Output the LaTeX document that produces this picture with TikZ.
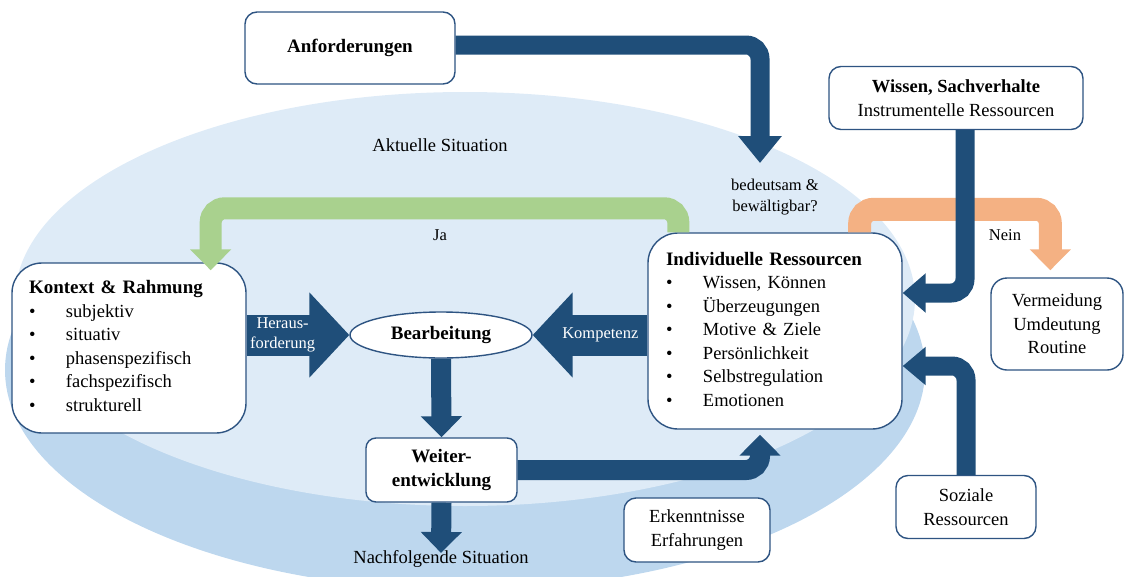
\documentclass[tikz,border=0pt]{standalone}
\usepackage{fontspec}
\setmainfont{Liberation Serif}
\usepackage{tikz}
\usetikzlibrary{arrows.meta,shapes.geometric}
\definecolor{pfeilBlau}{RGB}{31,78,121}
\definecolor{rahmenBlau}{RGB}{46,84,130}
\definecolor{situationHell}{RGB}{222,235,247}
\definecolor{situationDunkel}{RGB}{189,215,238}
\definecolor{jaGruen}{RGB}{169,209,142}
\definecolor{neinOrange}{RGB}{244,177,131}

\newcommand{\schriftNormal}{\fontsize{18.5}{23.5}\selectfont}
\newcommand{\schriftTitel}{\fontsize{19}{23.5}\selectfont\bfseries}
\newcommand{\schriftKlein}{\fontsize{16.5}{20.5}\selectfont}

\begin{document}
\begin{tikzpicture}[x=1pt, y=-1pt,
		box/.style={draw=rahmenBlau, line width=1.4pt, fill=white, align=center, inner sep=0pt, font=\schriftNormal},
		dick/.style={line width=20pt, rounded corners=14pt, -{Triangle[width=40pt,length=21pt]}},
		breit/.style={draw=pfeilBlau, line width=41pt, -{Triangle[width=83pt,length=40pt]}},
		beschriftung/.style={font=\schriftKlein}]
		\useasboundingbox (0,0) rectangle (1125,576);
		
		% Situations
		\fill[situationDunkel] (465,370) ellipse [x radius=460pt, y radius=220pt];
		\fill[situationHell] (465,299) ellipse [x radius=450pt, y radius=207pt];
		\node[font=\schriftNormal] (aktuell) at (440,145) {Aktuelle Situation};
		\node[font=\schriftNormal] (nach) at (441,559) {Nachfolgende Situation};
		
		% Boxes
		\begin{scope}[every node/.style={box}]
			\node[minimum width=210pt, minimum height=72pt, rounded corners=12pt, font=\schriftTitel] (anf) at (350,48) {Anforderungen};
			\node[minimum width=254pt, minimum height=63pt, rounded corners=12pt] (wissen) at (956,98) {{\bfseries Wissen, Sachverhalte}\\Instrumentelle Ressourcen};
			\node[minimum width=132pt, minimum height=92pt, rounded corners=16pt] (verm) at (1057,324) {Vermeidung\\Umdeutung\\Routine};
			\node[minimum width=146pt, minimum height=64pt, rounded corners=12pt] (erk) at (697,530) {Erkenntnisse\\Erfahrungen};
			\node[minimum width=140pt, minimum height=63pt, rounded corners=12pt] (soz) at (966,507) {Soziale\\Ressourcen};
			\node[minimum width=151pt, minimum height=64pt, rounded corners=10pt, font=\schriftTitel] (weiter) at (441.5,470) {Weiter-\\entwicklung};
			\node[ellipse, minimum width=182pt, minimum height=46pt, font=\schriftTitel] (bearb) at (441,335) {Bearbeitung};
		\end{scope}
		\begin{scope}[every node/.style={box, align=left, rounded corners=30pt}]
			\node[text width=200pt, inner xsep=17pt, minimum height=170pt] (kontext) at (129,348) {%
				\begin{tabular}{@{}p{37pt}@{}l@{}}
					\multicolumn{2}{@{}l@{}}{\schriftTitel Kontext \& Rahmung}\\
					\textbullet & subjektiv\\
					\textbullet & situativ\\
					\textbullet & phasenspezifisch\\
					\textbullet & fachspezifisch\\
					\textbullet & strukturell
				\end{tabular}};
			\node[text width=218pt, inner xsep=18pt, minimum height=196pt] (indiv) at (775,331) {%
				\begin{tabular}{@{}p{37pt}@{}l@{}}
					\multicolumn{2}{@{}l@{}}{\schriftTitel Individuelle Ressourcen}\\
					\textbullet & Wissen, Können\\
					\textbullet & Überzeugungen\\
					\textbullet & Motive \& Ziele\\
					\textbullet & Persönlichkeit\\
					\textbullet & Selbstregulation\\
					\textbullet & Emotionen
				\end{tabular}};
		\end{scope}
		
		% Labels
		\node[beschriftung, align=center] (frage) at (775,197) {bedeutsam \&\\bewältigbar?};
		\node[beschriftung] (ja) at (440,235) {Ja};
		\node[beschriftung] (nein) at (1005,235) {Nein};
		\coordinate (frageSpitze) at (760,163);
		
		% Arrows
		\draw[dick, draw=pfeilBlau, line width=19pt, -{Triangle[width=42pt,length=27pt]}] ([yshift=3pt]anf.east) -| (frageSpitze);
		\draw[dick, draw=jaGruen, line width=22pt] ([xshift=31pt]indiv.north west) -- ++(0,-24) -| ([xshift=-36pt,yshift=-8pt]kontext.north east);
		\draw[dick, draw=neinOrange, line width=23pt] ([xshift=-43pt]indiv.north east) -- ++(0,-23) -| ([xshift=60pt,yshift=7pt]verm.north west);
		\draw[dick, draw=pfeilBlau, line width=19pt, -{Triangle[width=38pt,length=23pt]}] ([xshift=9pt]wissen.south) |- ([yshift=38pt]indiv.east);
		\draw[dick, draw=pfeilBlau, line width=19pt, -{Triangle[width=37pt,length=23pt]}] (soz.north) |- ([yshift=-35pt]indiv.east);
		\draw[dick, draw=pfeilBlau] (weiter.east) -| ([xshift=-15pt,yshift=-5pt]indiv.south);
		\draw[dick, draw=pfeilBlau] (bearb.south) -- (weiter.north);
		\draw[dick, draw=pfeilBlau] (weiter.south) -- ([yshift=-6pt]nach.north);
		\draw[breit] (kontext.east |- bearb) -- (bearb.west)
			node[pos=0.35, beschriftung, text=white, align=center] {Heraus-\\forderung};
		\draw[breit] (indiv.west |- bearb) -- (bearb.east)
			node[pos=0.41, beschriftung, text=white] {Kompetenz};
	\end{tikzpicture}
\end{document}
